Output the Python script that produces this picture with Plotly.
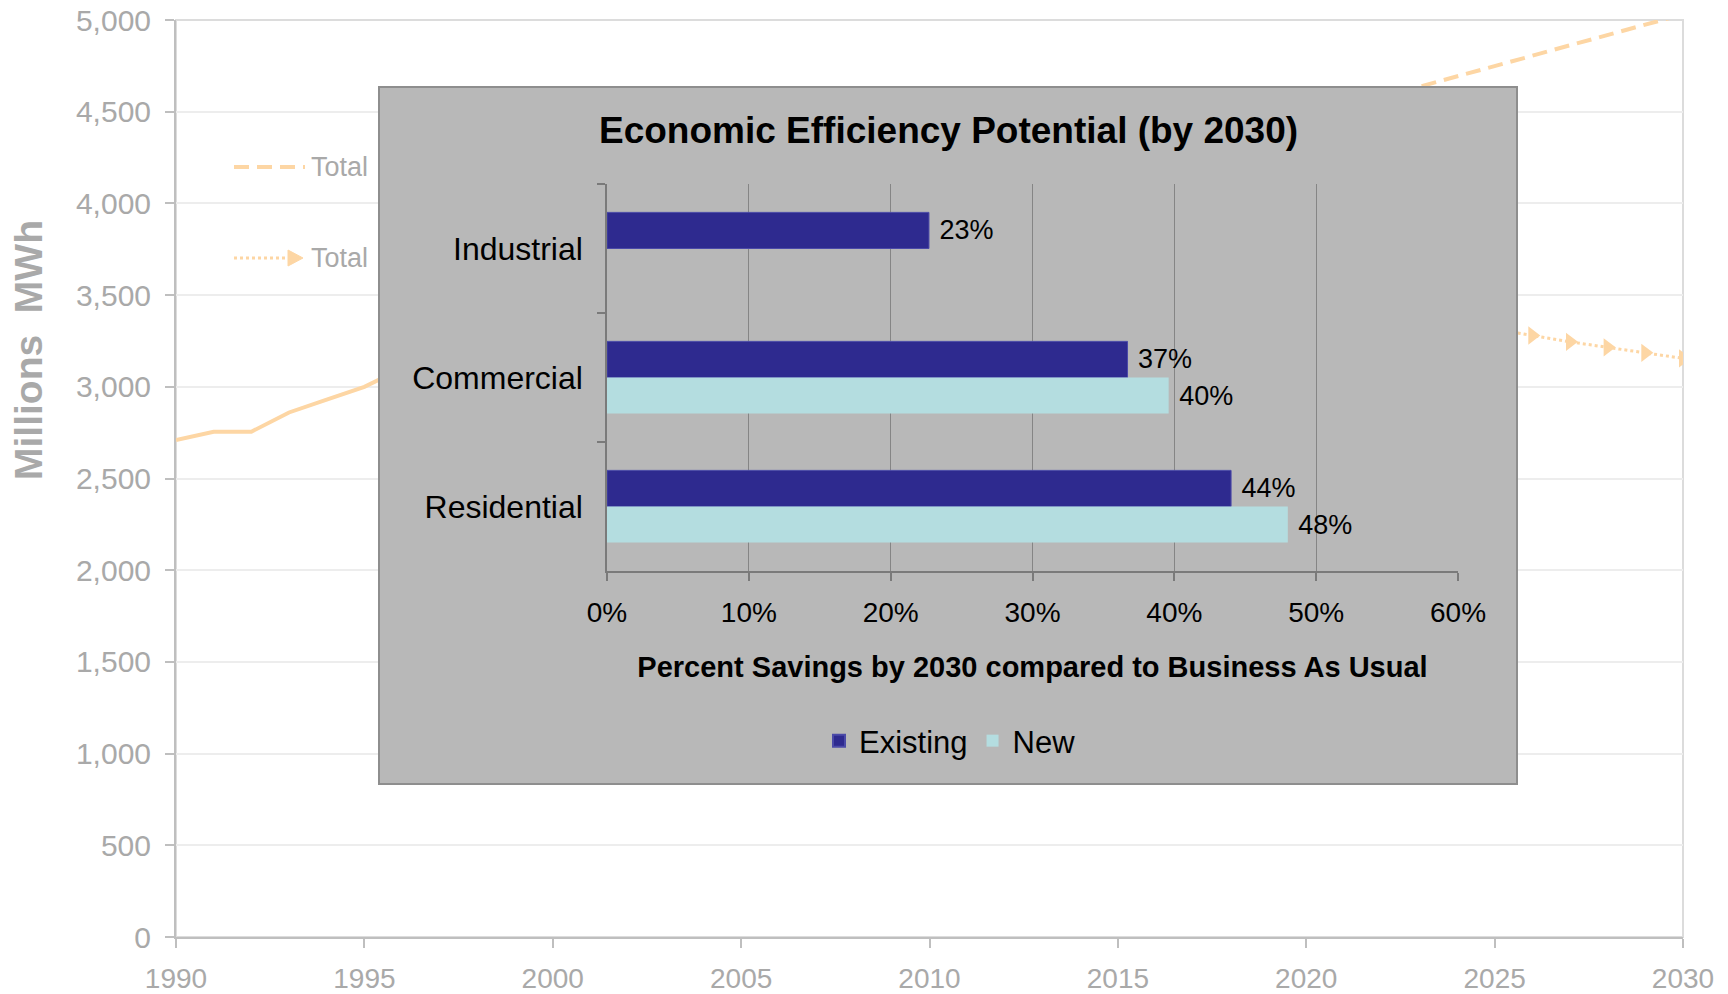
import plotly.graph_objects as go

# ---------------- data: background chart (Millions MWh) ----------------
hist_years = list(range(1990, 2007))
hist_values = [2710, 2755, 2755, 2860, 2930, 3000, 3100, 3140, 3260, 3310,
               3420, 3370, 3460, 3490, 3550, 3660, 3670]
proj_years = list(range(2006, 2031))
bau_values = [3670, 3725, 3785, 3840, 3900, 3955, 4010, 4070, 4125, 4180,
              4240, 4295, 4350, 4410, 4465, 4520, 4580, 4635, 4692, 4748,
              4805, 4862, 4918, 4975, 5031]
eff_values = [3670, 3700, 3715, 3705, 3685, 3660, 3635, 3610, 3585, 3560,
              3535, 3510, 3485, 3460, 3435, 3410, 3385, 3360, 3340, 3315,
              3280, 3245, 3215, 3185, 3155]
year_ticks = [1990, 1995, 2000, 2005, 2010, 2015, 2020, 2025, 2030]
mwh_ticks = [0, 500, 1000, 1500, 2000, 2500, 3000, 3500, 4000, 4500, 5000]
legend_label = "Total"
y_title = "Millions\u00a0 MWh"

# ---------------- data: inset bar chart ----------------
sectors = ["Industrial", "Commercial", "Residential"]
existing_savings = [0.227, 0.367, 0.44]
new_savings = [None, 0.396, 0.48]
pct_ticks = [0, 0.1, 0.2, 0.3, 0.4, 0.5, 0.6]
inset_title = "Economic Efficiency Potential (by 2030)"
inset_xtitle = "Percent Savings by 2030 compared to Business As Usual"

# ---------------- layout geometry (pixels) ----------------
W, H = 1728, 994
L, R, T, B = 176, 1683, 20, 937


def px(x):
    return (x - L) / (R - L)


def py(y):
    return (B - y) / (B - T)


PEACH = "#FDD6A4"
GRAYTXT = "#A9A9A9"
FONT = "Liberation Sans, Arial, sans-serif"
DASH = "15px,8px"

fig = go.Figure()

# background chart traces
fig.add_trace(go.Scatter(x=hist_years, y=hist_values, mode="lines",
                         line=dict(color=PEACH, width=4), showlegend=False,
                         xaxis="x", yaxis="y"))
fig.add_trace(go.Scatter(x=proj_years, y=bau_values, mode="lines",
                         line=dict(color=PEACH, width=4, dash=DASH),
                         showlegend=False, xaxis="x", yaxis="y"))
fig.add_trace(go.Scatter(x=proj_years, y=eff_values, mode="lines+markers",
                         line=dict(color=PEACH, width=3, dash="dot"),
                         marker=dict(symbol="triangle-right", size=16, color=PEACH),
                         showlegend=False, xaxis="x", yaxis="y"))

# empty trace that creates the grey panel subplot
fig.add_trace(go.Scatter(x=[], y=[], xaxis="x2", yaxis="y2", showlegend=False,
                         hoverinfo="skip"))

# inset bars
fig.add_trace(go.Bar(name="Existing", y=sectors, x=existing_savings, orientation="h",
                     marker=dict(color="#2E2A8F", line=dict(color="#4B4AA8", width=1)),
                     texttemplate="\u00a0%{x:.0%}", textposition="outside",
                     textfont=dict(size=27, color="black", family=FONT),
                     constraintext="none", cliponaxis=False,
                     xaxis="x3", yaxis="y3"))
fig.add_trace(go.Bar(name="New", y=sectors, x=new_savings, orientation="h",
                     marker=dict(color="#B4DDE0", line=dict(color="#B4DDE0", width=0)),
                     texttemplate="\u00a0%{x:.0%}", textposition="outside",
                     textfont=dict(size=27, color="black", family=FONT),
                     constraintext="none", cliponaxis=False,
                     xaxis="x3", yaxis="y3"))

shapes = [
    # white cover of the main plot area with light border (top/right frame)
    dict(type="rect", xref="paper", yref="paper", x0=0, x1=1, y0=0, y1=1,
         fillcolor="white", line=dict(color="#DCDCDC", width=2), layer="below"),
    # legend samples of the background chart
    dict(type="line", xref="paper", yref="paper", x0=px(234), x1=px(305),
         y0=py(167), y1=py(167), line=dict(color=PEACH, width=4, dash=DASH),
         layer="below"),
    dict(type="line", xref="paper", yref="paper", x0=px(234), x1=px(292),
         y0=py(258), y1=py(258), line=dict(color=PEACH, width=3, dash="dot"),
         layer="below"),
    dict(type="path", xref="paper", yref="paper",
         path="M {a},{b} L {c},{d} L {a},{e} Z".format(
             a=px(288), b=py(250), c=px(303), d=py(258), e=py(266)),
         fillcolor=PEACH, line=dict(color=PEACH, width=1), layer="below"),
]

annotations = [
    dict(text=legend_label, xref="paper", yref="paper", x=px(309), y=py(167),
         xanchor="left", yanchor="middle", showarrow=False,
         font=dict(size=27, color=GRAYTXT, family=FONT)),
    dict(text=legend_label, xref="paper", yref="paper", x=px(309), y=py(258),
         xanchor="left", yanchor="middle", showarrow=False,
         font=dict(size=27, color=GRAYTXT, family=FONT)),
    dict(text=y_title, xref="paper", yref="paper", x=px(28), y=py(350),
         xanchor="center", yanchor="middle", textangle=-90, showarrow=False,
         font=dict(size=39, color=GRAYTXT, family=FONT, weight="bold")),
    dict(text=inset_title, xref="paper", yref="paper",
         x=px(948), y=py(130), xanchor="center", yanchor="middle", showarrow=False,
         font=dict(size=37, color="black", family=FONT, weight="bold")),
]

fig.update_layout(
    width=W, height=H,
    margin=dict(l=L, r=W - R, t=T, b=H - B, autoexpand=False),
    paper_bgcolor="white",
    plot_bgcolor="#B8B8B8",
    font=dict(family=FONT),
    barmode="group", bargap=0.44, bargroupgap=0,
    shapes=shapes, annotations=annotations,
    showlegend=True,
    legend=dict(orientation="h", x=px(950), y=py(741), xanchor="center",
                yanchor="middle", bgcolor="rgba(0,0,0,0)",
                font=dict(size=31, color="black", family=FONT),
                traceorder="normal", itemsizing="constant"),
    xaxis=dict(domain=[0, 1], range=[1990, 2030], tickvals=year_ticks,
               showgrid=False, zeroline=False, showline=True, linecolor="#BFBFBF",
               linewidth=2, ticks="outside", ticklen=9, tickcolor="#BFBFBF",
               tickwidth=2, tickfont=dict(size=28, color=GRAYTXT),
               ticklabelstandoff=6, anchor="y"),
    yaxis=dict(domain=[0, 1], range=[0, 5000], tickvals=mwh_ticks, tickformat=",",
               showgrid=True, gridcolor="#EDEDED", gridwidth=2, zeroline=False,
               showline=True, linecolor="#BFBFBF", linewidth=2, ticks="outside",
               ticklen=9, tickcolor="#BFBFBF", tickwidth=2,
               tickfont=dict(size=30, color=GRAYTXT), ticklabelstandoff=8,
               anchor="x"),
    xaxis2=dict(domain=[px(380), px(1516)], range=[0, 1], visible=True,
                showgrid=False, zeroline=False, showticklabels=False, ticks="",
                showline=True, mirror=True, linecolor="#8E8E8E", linewidth=1.5,
                anchor="y2"),
    yaxis2=dict(domain=[py(783), py(88)], range=[0, 1], visible=True,
                showgrid=False, zeroline=False, showticklabels=False, ticks="",
                showline=True, mirror=True, linecolor="#8E8E8E", linewidth=1.5,
                anchor="x2"),
    xaxis3=dict(domain=[px(607), px(1458)], range=[0, 0.6], tickvals=pct_ticks,
                tickformat=".0%", showgrid=True, gridcolor="#858585", gridwidth=1,
                zeroline=False, showline=True, linecolor="#7A7A7A", linewidth=2,
                ticks="outside", ticklen=8, tickcolor="#7A7A7A", tickwidth=1.5,
                tickfont=dict(size=28, color="black"), ticklabelstandoff=7,
                title=dict(text=inset_xtitle, standoff=30,
                           font=dict(size=29, color="black", weight="bold")),
                anchor="y3"),
    yaxis3=dict(domain=[py(571), py(184)], categoryorder="array",
                categoryarray=sectors, autorange="reversed", tickson="boundaries",
                showgrid=False, zeroline=False, showline=True, linecolor="#7A7A7A",
                linewidth=1.5, ticks="outside", ticklen=8, tickcolor="#7A7A7A",
                tickwidth=1.5, tickfont=dict(size=32, color="black"),
                ticklabelstandoff=16, anchor="x3"),
)

fig.write_html("out.html")
